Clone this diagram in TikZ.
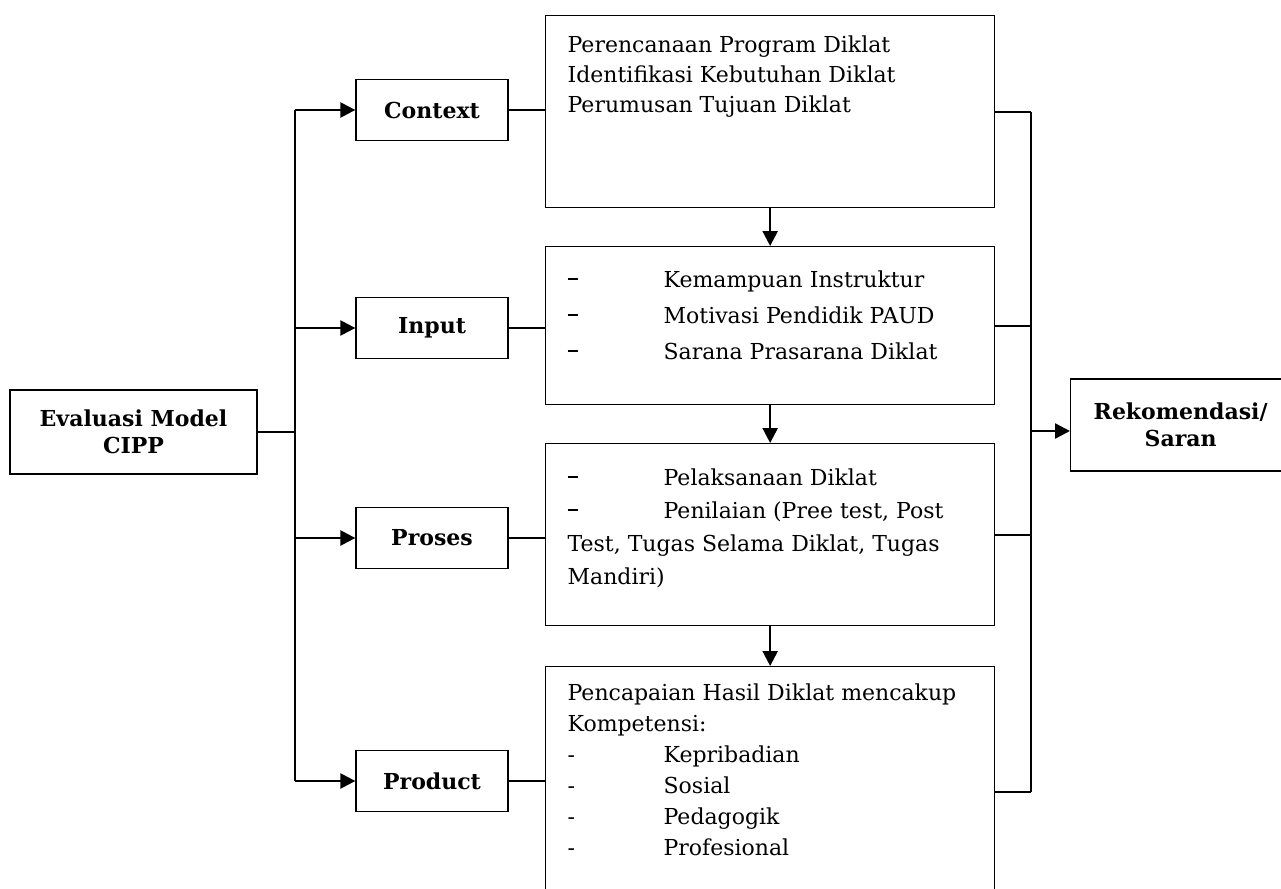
\documentclass[tikz,border=0pt]{standalone}
\usepackage{fontspec}
\setmainfont{DejaVu Serif}
\usetikzlibrary{positioning, arrows.meta}

\tikzset{
  smallbox/.style={draw, line width=1.3pt, minimum width=152pt, minimum height=61pt,
    inner sep=0pt, font=\bfseries\fontsize{22}{27}\selectfont},
  bigbox/.style={draw, line width=1.3pt, anchor=north west, inner xsep=22pt, inner ysep=0pt},
  link/.style={line width=2pt},
  arr/.style={line width=2.4pt, -{Triangle[length=15pt,width=15pt]}},
}
\newcommand{\dashbar}{\makebox[96pt][l]{\rule[7pt]{10pt}{2.8pt}}}
\newcommand{\dashhyp}{\makebox[96pt][l]{-}}
\newcommand{\boxtext}[4]{\parbox[c][#1pt][t]{405pt}{\vspace*{#2pt}\raggedright\fontsize{22}{#3}\selectfont #4}}

\begin{document}
\begin{tikzpicture}[x=1pt, y=-1pt]
\useasboundingbox (0,0) rectangle (1281,888);

% Left side
\node[smallbox, minimum width=247pt, minimum height=84pt, align=center] (eval) at (133.5,432)
  {Evaluasi Model\\CIPP};
\node[smallbox] (ctx) at (432,110) {Context};
\node[smallbox] (inp) at (432,328) {Input};
\node[smallbox] (pro) at (432,538) {Proses};
\node[smallbox] (prd) at (432,781) {Product};

% Description boxes
\node[bigbox] (b1) at (545,15) {\boxtext{192}{20}{30}{%
  Perencanaan Program Diklat\\
  Identifikasi Kebutuhan Diklat\\
  Perumusan Tujuan Diklat}};
\node[bigbox] (b2) at (545,246) {\boxtext{158}{24}{36}{%
  \dashbar Kemampuan Instruktur\\
  \dashbar Motivasi Pendidik PAUD\\
  \dashbar Sarana Prasarana Diklat}};
\node[bigbox] (b3) at (545,443) {\boxtext{182}{25}{33}{%
  \dashbar Pelaksanaan Diklat\\
  \dashbar Penilaian (Pree test, Post\\
  Test, Tugas Selama Diklat, Tugas\\
  Mandiri)}};
\node[bigbox] (b4) at (545,666) {\boxtext{250}{17}{31}{%
  Pencapaian Hasil Diklat mencakup\\
  Kompetensi:\\
  \dashhyp Kepribadian\\
  \dashhyp Sosial\\
  \dashhyp Pedagogik\\
  \dashhyp Profesional}};

% Result
\node[smallbox, anchor=west, minimum width=220pt, minimum height=92pt, align=center] (rek) at (1070,425)
  {Rekomendasi/\\Saran};

% Left bus
\coordinate (lbus) at (295,432);
\coordinate (rbus) at (1031,431);
\draw[link] (eval.east) -- (lbus);
\draw[link] (lbus |- ctx.west) -- (lbus |- prd.west);
\foreach \n in {ctx,inp,pro,prd}
  \draw[arr] (lbus |- \n.west) -- (\n.west);

% Small boxes to description boxes
\foreach \s/\b in {ctx/b1,inp/b2,pro/b3,prd/b4}
  \draw[link] (\s.east) -- (\s.east -| \b.west);

% Downward arrows
\draw[arr] (b1.south) -- (b2.north);
\draw[arr] (b2.south) -- (b3.north);
\draw[arr] (b3.south) -- (b4.north);

% Right bus
\foreach \b in {b1,b2,b3,b4}
  \draw[link] (\b.east) -- (rbus |- \b.east);
\draw[link] (rbus |- b1.east) -- (rbus |- b4.east);
\draw[arr] (rbus) -- (rbus -| rek.west);
\end{tikzpicture}
\end{document}
